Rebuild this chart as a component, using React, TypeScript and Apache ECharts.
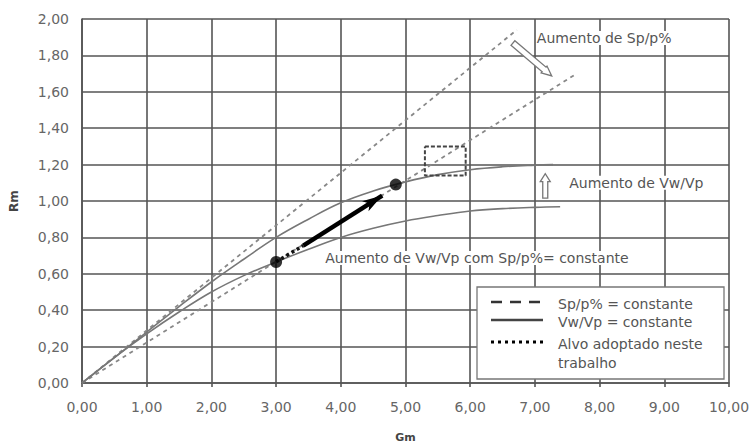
import React, { useEffect, useRef } from "react";
import * as echarts from "echarts";

const spConstHigh: number[][] = [[0, 0], [6.72, 1.94]];
const spConstLow: number[][] = [[0, 0], [7.6, 1.69]];
const vwUpper: number[][] = [
  [0, 0], [0.5, 0.14], [1, 0.28], [1.5, 0.42], [2, 0.555], [2.5, 0.68],
  [3, 0.8], [3.5, 0.9], [4, 0.99], [4.5, 1.055], [5, 1.105], [5.5, 1.145],
  [6, 1.172], [6.5, 1.188], [7, 1.197], [7.28, 1.2],
];
const vwLower: number[][] = [
  [0, 0], [0.5, 0.14], [1, 0.27], [1.5, 0.39], [2, 0.5], [2.5, 0.59],
  [3, 0.665], [3.5, 0.735], [4, 0.8], [4.5, 0.85], [5, 0.89], [5.5, 0.92],
  [6, 0.945], [6.5, 0.958], [7, 0.965], [7.39, 0.968],
];
const targetDotted: number[][] = [[3.0, 0.666], [3.42, 0.755]];
const targetArrow: number[][] = [[3.42, 0.755], [4.64, 1.03]];
const targetPoints: number[][] = [[3.0, 0.665], [4.85, 1.09]];
const targetBox: number[][] = [
  [5.3, 1.3], [5.93, 1.3], [5.93, 1.14], [5.3, 1.14], [5.3, 1.3],
];
const arrowSp: number[][] = [[6.66, 1.868], [7.26, 1.687]];
const arrowVw: number[][] = [[7.16, 1.016], [7.16, 1.15]];
const annotations: { text: string; at: number[] }[] = [
  { text: "Aumento de Sp/p%", at: [7.03, 1.895] },
  { text: "Aumento de Vw/Vp", at: [7.53, 1.1] },
  { text: "Aumento de Vw/Vp com Sp/p%= constante", at: [3.76, 0.687] },
];
const legendItems = ["Sp/p% = constante", "Vw/Vp = constante", "Alvo adoptado neste\ntrabalho"];

const FONT = "'DejaVu Sans', Arial, sans-serif";
const fmt = (v: number) => v.toFixed(2).replace(".", ",");

function hollowArrow(p1: number[], p2: number[], sw: number, hw: number, hl: number) {
  const dx = p2[0] - p1[0];
  const dy = p2[1] - p1[1];
  const len = Math.sqrt(dx * dx + dy * dy);
  const ux = dx / len, uy = dy / len;
  const nx = -uy, ny = ux;
  const neck = [p2[0] - ux * hl, p2[1] - uy * hl];
  return [
    [p1[0] + nx * sw, p1[1] + ny * sw],
    [neck[0] + nx * sw, neck[1] + ny * sw],
    [neck[0] + nx * hw, neck[1] + ny * hw],
    [p2[0], p2[1]],
    [neck[0] - nx * hw, neck[1] - ny * hw],
    [neck[0] - nx * sw, neck[1] - ny * sw],
    [p1[0] - nx * sw, p1[1] - ny * sw],
  ];
}

export default function App() {
  const ref = useRef<HTMLDivElement>(null);
  useEffect(() => {
    if (!ref.current) return;
    const chart = echarts.init(ref.current, undefined, { renderer: "svg" });
    const gridColor = "#555";
    const option: any = {
      animation: false,
      backgroundColor: "#ffffff",
      grid: { left: 82, right: 24, top: 19, bottom: 63, outerBoundsMode: "none", containLabel: false },
      xAxis: {
        type: "value", min: 0, max: 10, interval: 1,
        name: "Gm", nameLocation: "middle", nameGap: 49,
        nameTextStyle: { fontFamily: FONT, fontSize: 11, fontWeight: "bold", color: "#444" },
        axisLine: { show: true, lineStyle: { color: gridColor, width: 1.6 } },
        axisTick: { show: true, length: 4, lineStyle: { color: gridColor, width: 1.6 } },
        axisLabel: { formatter: fmt, fontFamily: FONT, fontSize: 14, color: "#666", margin: 17 },
        splitLine: { show: true, lineStyle: { color: gridColor, width: 1.6 } },
      },
      yAxis: {
        type: "value", min: 0, max: 2, interval: 0.2,
        name: "Rm", nameLocation: "middle", nameGap: 62, nameRotate: 90,
        nameTextStyle: { fontFamily: FONT, fontSize: 12, fontWeight: "bold", color: "#444" },
        axisLine: { show: true, lineStyle: { color: gridColor, width: 1.6 } },
        axisTick: { show: false },
        axisLabel: { formatter: fmt, fontFamily: FONT, fontSize: 14, color: "#666", margin: 13 },
        splitLine: { show: true, lineStyle: { color: gridColor, width: 1.6 } },
      },
      series: [
        {
          type: "line", data: spConstHigh, showSymbol: false, symbol: "none",
          lineStyle: { color: "#888", width: 1.8, type: [4, 4] }, z: 3,
        },
        {
          type: "line", data: spConstLow, showSymbol: false, symbol: "none",
          lineStyle: { color: "#888", width: 1.8, type: [4, 4] }, z: 3,
        },
        {
          type: "line", data: vwUpper, smooth: 0.4, showSymbol: false, symbol: "none",
          lineStyle: { color: "#777", width: 1.6 }, z: 3,
        },
        {
          type: "line", data: vwLower, smooth: 0.4, showSymbol: false, symbol: "none",
          lineStyle: { color: "#777", width: 1.6 }, z: 3,
        },
        {
          type: "line", data: targetBox, showSymbol: false, symbol: "none",
          lineStyle: { color: "#444", width: 2, type: [4, 2] }, z: 4,
        },
        {
          type: "line", data: targetDotted, showSymbol: false, symbol: "none",
          lineStyle: { color: "#111", width: 3.5, type: [3, 3] }, z: 5,
          markLine: {
            silent: true, animation: false,
            symbol: ["none", "arrow"], symbolSize: [9, 20],
            label: { show: false },
            lineStyle: { color: "#000", width: 4.5, type: "solid" },
            data: [[{ coord: targetArrow[0] }, { coord: targetArrow[1] }]],
          },
        },
        {
          type: "scatter", data: targetPoints, symbolSize: 12,
          itemStyle: { color: "#000" }, z: 6,
        },
      ],
    };
    chart.setOption(option);

    const toPx = (p: number[]) => chart.convertToPixel({ gridIndex: 0 }, p) as number[];
    const graphic: any[] = [];
    graphic.push({
      type: "polygon", z: 10,
      shape: { points: hollowArrow(toPx(arrowSp[0]), toPx(arrowSp[1]), 3, 4.5, 10) },
      style: { fill: "#fff", stroke: "#777", lineWidth: 1.3 },
    });
    graphic.push({
      type: "polygon", z: 10,
      shape: { points: hollowArrow(toPx(arrowVw[0]), toPx(arrowVw[1]), 2.5, 5, 8) },
      style: { fill: "#fff", stroke: "#777", lineWidth: 1.3 },
    });
    annotations.forEach((a) => {
      const p = toPx(a.at);
      graphic.push({
        type: "text", x: p[0], y: p[1], z: 10,
        style: {
          text: a.text, fontFamily: FONT, fontSize: 14, fill: "#555",
          align: "left", verticalAlign: "middle",
          backgroundColor: "#fff",
        },
      });
    });
    // legend box
    const lx = 477, ly = 287, lw = 247, lh = 92;
    graphic.push({
      type: "rect", z: 10,
      shape: { x: lx, y: ly, width: lw, height: lh },
      style: { fill: "#fff", stroke: "#777", lineWidth: 1.3 },
    });
    const rows = [302, 320, 342];
    const lineStyles = [
      { stroke: "#333", lineWidth: 2.5, lineDash: [11, 8] },
      { stroke: "#444", lineWidth: 2.5 },
      { stroke: "#000", lineWidth: 3, lineDash: [3, 4] },
    ];
    legendItems.forEach((t, i) => {
      graphic.push({
        type: "line", z: 11,
        shape: { x1: 491, y1: rows[i], x2: 543, y2: rows[i] },
        style: lineStyles[i],
      });
      graphic.push({
        type: "text", x: 558, y: rows[i] - 8, z: 11,
        style: {
          text: t, fontFamily: FONT, fontSize: 14, fill: "#555",
          align: "left", verticalAlign: "top", lineHeight: 19,
        },
      });
    });
    chart.setOption({ graphic });

    return () => chart.dispose();
  }, []);
  return <div ref={ref} style={{ width: 753, height: 446, position: "absolute", left: 0, top: 0 }} />;
}
